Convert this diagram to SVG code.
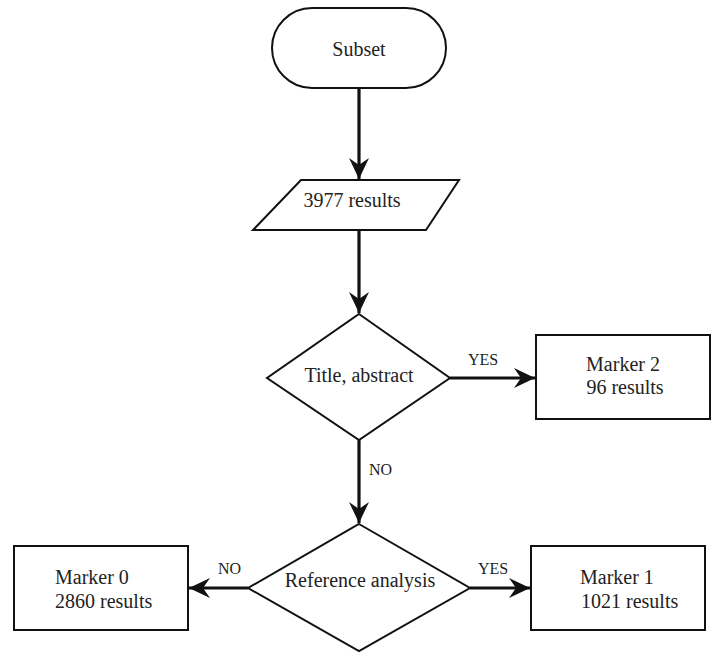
<svg xmlns="http://www.w3.org/2000/svg" width="720" height="659" viewBox="0 0 720 659">
<defs>
<style>
.shape{fill:#fff;stroke:#111;stroke-width:2}
.conn{fill:none;stroke:#111;stroke-width:3.2}
.t{font-family:"Liberation Serif","Times New Roman",serif;font-size:20px;fill:#222}
.c{text-anchor:middle}
.lbl{font-family:"Liberation Serif","Times New Roman",serif;font-size:16px;fill:#222}
</style>
<marker id="ah" markerUnits="userSpaceOnUse" markerWidth="24" markerHeight="22" viewBox="-22 -11 24 22" refX="0" refY="0" orient="auto">
<path d="M0,0 L-21,-10 L-14,0 L-21,10 Z" fill="#111"/>
</marker>
</defs>
<rect width="720" height="659" fill="#fff"/>
<g id="connectors">
<line class="conn" x1="359" y1="88" x2="359" y2="179" marker-end="url(#ah)"/>
<line class="conn" x1="359" y1="230" x2="359" y2="313" marker-end="url(#ah)"/>
<line class="conn" x1="450" y1="378" x2="535" y2="378" marker-end="url(#ah)"/>
<line class="conn" x1="359" y1="440" x2="359" y2="523" marker-end="url(#ah)"/>
<line class="conn" x1="248" y1="588" x2="189" y2="588" marker-end="url(#ah)"/>
<line class="conn" x1="470" y1="588" x2="530" y2="588" marker-end="url(#ah)"/>
<text class="lbl" x="468" y="365">YES</text>
<text class="lbl" x="369" y="475">NO</text>
<text class="lbl" x="218" y="574">NO</text>
<text class="lbl" x="478" y="574">YES</text>
</g>
<g id="subset">
<rect class="shape" x="272" y="8" width="174" height="80" rx="40" ry="40"/>
<text class="t c" x="359" y="56">Subset</text>
</g>
<g id="results">
<polygon class="shape" points="301,180 459,180 426,230 253,230"/>
<text class="t c" x="352" y="207">3977 results</text>
</g>
<g id="title-abstract">
<polygon class="shape" points="359,314 450,378 359,440 267,378"/>
<text class="t c" x="359" y="382">Title, abstract</text>
</g>
<g id="marker2">
<rect class="shape" x="536" y="335" width="174" height="84"/>
<text class="t c" x="623" y="371">Marker 2</text>
<text class="t c" x="625" y="394">96 results</text>
</g>
<g id="reference-analysis">
<polygon class="shape" points="359,524 470,588 359,651 248,588"/>
<text class="t c" x="360" y="587">Reference analysis</text>
</g>
<g id="marker0">
<rect class="shape" x="14" y="546" width="174" height="84"/>
<text class="t" x="55" y="584">Marker 0</text>
<text class="t" x="55" y="608">2860 results</text>
</g>
<g id="marker1">
<rect class="shape" x="531" y="546" width="174" height="84"/>
<text class="t" x="580" y="584">Marker 1</text>
<text class="t" x="581" y="608">1021 results</text>
</g>
</svg>
